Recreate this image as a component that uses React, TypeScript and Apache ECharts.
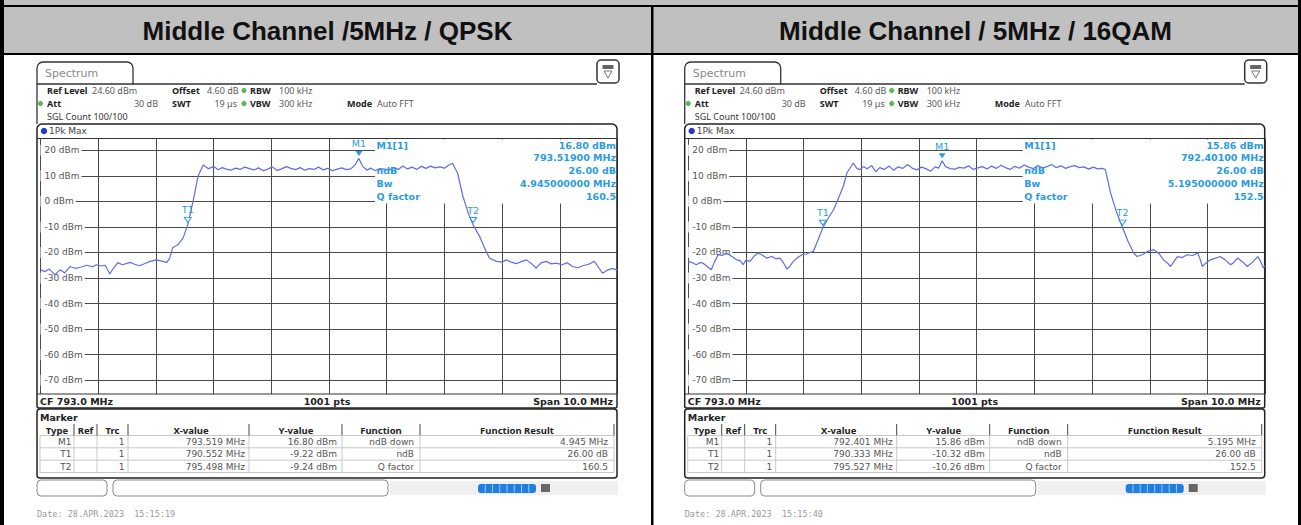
import React, { useEffect, useRef } from 'react';
import * as echarts from 'echarts';

const W = 1301;
const H = 525;
const FONT = '"DejaVu Sans", Verdana, sans-serif';
const NARROW = '"Noto Sans", "DejaVu Sans", sans-serif';
const MONO = '"DejaVu Sans Mono", monospace';
const TRACE = '#5f6de3';
const MARK = '#2b9be0';

const PANEL_DX = [0, 647.7];
const titles = ['Middle Channel /5MHz / QPSK', 'Middle Channel / 5MHz / 16QAM'];

const freqStart = 788;
const freqStop = 798;
const refLevel = 24.6;
const bottomLevel = -75.4;
const yTicks = [20, 10, 0, -10, -20, -30, -40, -50, -60, -70];

// [frequency MHz, level dBm]
const qpskTrace: [number, number][] = [
  [788.0, -26.8], [788.08, -27.5], [788.15, -26.5], [788.25, -28.7], [788.34, -26.8], [788.42, -28.0],
  [788.51, -25.5], [788.6, -26.2], [788.7, -25.8], [788.8, -25.0], [788.9, -25.6], [788.97, -24.8],
  [789.05, -25.3], [789.12, -25.0], [789.2, -28.4], [789.27, -26.0], [789.34, -24.0], [789.42, -24.8],
  [789.5, -24.3], [789.55, -23.9], [789.63, -24.6], [789.72, -25.2], [789.8, -24.4], [789.9, -23.5],
  [790.01, -22.9], [790.1, -23.4], [790.19, -23.9], [790.24, -22.2], [790.29, -18.2], [790.38, -17.0],
  [790.47, -14.4], [790.552, -9.22], [790.65, 0.7], [790.73, 9.8], [790.82, 14.2], [790.91, 12.8],
  [791.0, 13.6], [791.08, 12.4], [791.15, 13.2], [791.22, 12.6], [791.3, 12.2], [791.38, 13.0],
  [791.46, 12.5], [791.54, 13.4], [791.62, 12.8], [791.7, 12.3], [791.78, 13.1], [791.86, 12.0],
  [791.94, 12.6], [792.02, 13.5], [792.1, 12.1], [792.18, 12.7], [792.26, 13.6], [792.34, 12.9],
  [792.42, 12.4], [792.5, 13.2], [792.58, 12.2], [792.66, 12.8], [792.74, 12.5], [792.82, 13.4],
  [792.9, 12.3], [792.98, 12.9], [793.06, 12.0], [793.14, 12.6], [793.22, 13.1], [793.3, 12.4],
  [793.38, 12.7], [793.46, 14.6], [793.519, 16.8], [793.58, 13.8], [793.66, 12.2], [793.72, 13.0],
  [793.8, 12.1], [793.88, 12.8], [793.96, 12.6], [794.04, 12.3], [794.12, 13.2], [794.2, 12.5],
  [794.28, 13.8], [794.36, 12.7], [794.44, 13.4], [794.52, 12.5], [794.6, 13.7], [794.68, 12.9],
  [794.76, 13.8], [794.84, 13.1], [794.92, 13.5], [795.0, 13.0], [795.08, 14.2], [795.14, 14.9],
  [795.23, 11.0], [795.32, 2.0], [795.42, -5.0], [795.498, -9.24], [795.61, -13.7], [795.7, -18.5],
  [795.78, -22.2], [795.9, -23.5], [796.0, -23.8], [796.07, -22.9], [796.16, -23.8], [796.25, -24.4],
  [796.33, -23.6], [796.42, -22.9], [796.5, -24.2], [796.59, -26.1], [796.68, -24.0], [796.77, -23.5],
  [796.85, -24.5], [796.94, -24.2], [797.04, -24.8], [797.13, -24.0], [797.22, -25.5], [797.31, -26.0],
  [797.4, -25.2], [797.5, -24.6], [797.6, -23.5], [797.67, -25.8], [797.74, -28.1], [797.82, -27.0],
  [797.9, -26.3], [798.0, -26.8],
];

const qamTrace: [number, number][] = [
  [788.0, -23.5], [788.07, -24.0], [788.14, -24.8], [788.2, -24.0], [788.26, -24.2], [788.33, -25.5],
  [788.4, -26.8], [788.46, -23.5], [788.52, -20.9], [788.59, -21.2], [788.66, -20.2], [788.75, -21.5],
  [788.84, -22.9], [788.9, -23.2], [788.95, -24.8], [789.0, -23.0], [789.07, -23.5], [789.14, -21.5],
  [789.21, -20.2], [789.28, -21.0], [789.36, -22.2], [789.45, -21.6], [789.52, -22.5], [789.59, -22.2],
  [789.65, -24.0], [789.71, -26.5], [789.76, -25.5], [789.82, -23.5], [789.9, -22.0], [789.97, -20.9],
  [790.05, -20.6], [790.11, -20.0], [790.17, -19.6], [790.25, -15.0], [790.333, -10.32], [790.42, -6.8],
  [790.52, -3.3], [790.6, 1.0], [790.69, 6.0], [790.75, 11.1], [790.86, 15.0], [790.92, 13.0],
  [790.97, 12.4], [791.04, 13.6], [791.1, 12.8], [791.18, 14.0], [791.25, 11.6], [791.32, 13.2],
  [791.4, 12.5], [791.48, 13.8], [791.56, 12.2], [791.64, 13.5], [791.72, 12.9], [791.8, 14.4],
  [791.88, 13.0], [791.96, 12.3], [792.04, 13.4], [792.12, 12.8], [792.2, 11.8], [792.28, 13.5],
  [792.34, 13.0], [792.401, 15.86], [792.46, 13.6], [792.54, 12.8], [792.62, 12.6], [792.7, 13.3],
  [792.78, 13.0], [792.86, 13.9], [792.94, 12.5], [793.02, 13.1], [793.1, 13.6], [793.18, 12.7],
  [793.26, 13.8], [793.34, 12.9], [793.42, 14.1], [793.5, 13.2], [793.58, 12.5], [793.66, 13.7],
  [793.74, 13.0], [793.82, 14.2], [793.9, 13.4], [793.98, 12.8], [794.06, 14.0], [794.14, 13.1],
  [794.22, 13.6], [794.3, 14.4], [794.38, 13.2], [794.46, 13.9], [794.54, 12.9], [794.62, 13.6],
  [794.7, 14.0], [794.78, 13.2], [794.86, 13.5], [794.94, 12.6], [795.02, 13.4], [795.1, 12.7],
  [795.17, 12.9], [795.23, 12.4], [795.32, 3.3], [795.42, -4.0], [795.527, -10.26], [795.62, -15.5],
  [795.72, -20.2], [795.78, -21.6], [795.88, -20.8], [795.96, -19.6], [796.07, -18.9], [796.16, -20.5],
  [796.24, -22.9], [796.3, -24.0], [796.36, -25.5], [796.42, -23.5], [796.48, -21.6], [796.56, -22.0],
  [796.65, -20.9], [796.74, -21.2], [796.83, -20.2], [796.87, -22.5], [796.91, -25.5], [796.98, -24.0],
  [797.05, -22.9], [797.13, -22.3], [797.22, -21.6], [797.31, -23.0], [797.4, -24.8], [797.46, -23.8],
  [797.52, -22.2], [797.6, -23.5], [797.69, -25.5], [797.78, -23.8], [797.87, -21.6], [797.92, -23.5],
  [797.97, -26.1], [798.0, -25.0],
];

const markerNames = ['M1', 'T1', 'T2'];
const qpskMarkerFreq = [793.519, 790.552, 795.498];
const qpskMarkerLevel = [16.8, -9.22, -9.24];
const qamMarkerFreq = [792.401, 790.333, 795.527];
const qamMarkerLevel = [15.86, -10.32, -10.26];

const infoLabels = ['M1[1]', 'ndB', 'Bw', 'Q factor'];
const qpskInfoValues = ['16.80 dBm', '793.51900 MHz', '26.00 dB', '4.945000000 MHz', '160.5'];
const qamInfoValues = ['15.86 dBm', '792.40100 MHz', '26.00 dB', '5.195000000 MHz', '152.5'];

const tableHeader = ['Type', 'Ref', 'Trc', 'X-value', 'Y-value', 'Function', 'Function Result'];
const qpskRows = [
  ['M1', '', '1', '793.519 MHz', '16.80 dBm', 'ndB down', '4.945 MHz'],
  ['T1', '', '1', '790.552 MHz', '-9.22 dBm', 'ndB', '26.00 dB'],
  ['T2', '', '1', '795.498 MHz', '-9.24 dBm', 'Q factor', '160.5'],
];
const qamRows = [
  ['M1', '', '1', '792.401 MHz', '15.86 dBm', 'ndB down', '5.195 MHz'],
  ['T1', '', '1', '790.333 MHz', '-10.32 dBm', 'ndB', '26.00 dB'],
  ['T2', '', '1', '795.527 MHz', '-10.26 dBm', 'Q factor', '152.5'],
];
const dates = ['Date: 28.APR.2023  15:15:19', 'Date: 28.APR.2023  15:15:40'];

const traces = [qpskTrace, qamTrace];
const markerFreqs = [qpskMarkerFreq, qamMarkerFreq];
const markerLevels = [qpskMarkerLevel, qamMarkerLevel];
const infoValues = [qpskInfoValues, qamInfoValues];
const tableRows = [qpskRows, qamRows];

// layout
const GRID_LEFT = 40.5;
const GRID_TOP = 138.5;
const GRID_W = 577;
const GRID_H = 255.5;

function panelGraphics(p: number): any[] {
  const dx = PANEL_DX[p];
  const X = (x: number) => x + dx;
  const els: any[] = [];
  const txt = (x: number, y: number, text: string, o: any = {}) =>
    els.push({
      type: 'text', x: X(x), y, z: 12,
      style: {
        text, fill: o.fill ?? '#333', fontSize: o.size ?? 9,
        fontWeight: o.bold ? 'bold' : 'normal', fontFamily: o.family ?? FONT,
        textAlign: o.align ?? 'left', textVerticalAlign: 'middle',
      },
    });
  const line = (x1: number, y1: number, x2: number, y2: number, stroke = '#222', lw = 1, z = 6) =>
    els.push({ type: 'line', z, shape: { x1: X(x1), y1, x2: X(x2), y2 }, style: { stroke, lineWidth: lw } });
  const dot = (cx: number, cy: number, fill: string, r = 2.6) =>
    els.push({ type: 'circle', z: 12, shape: { cx: X(cx), cy, r }, style: { fill } });

  // tab
  els.push({ type: 'rect', z: 6, shape: { x: X(37), y: 62, width: 96, height: 22, r: [6, 6, 0, 0] }, style: { fill: '#fff', stroke: '#333', lineWidth: 1.3 } });
  line(133, 84, 597, 84, '#333', 1.3);
  line(37, 84, 37, 124, '#333', 1.3);
  txt(45, 73, 'Spectrum', { size: 11, fill: '#8a8a8a' });
  // icon
  els.push({ type: 'rect', z: 6, shape: { x: X(597), y: 60, width: 22, height: 23, r: 4 }, style: { fill: '#fff', stroke: '#333', lineWidth: 1.5 } });
  els.push({ type: 'rect', z: 7, shape: { x: X(602.5), y: 65, width: 11, height: 4 }, style: { fill: '#666' } });
  els.push({ type: 'polygon', z: 7, shape: { points: [[X(604), 71], [X(612), 71], [X(608), 78]] }, style: { fill: 'none', stroke: '#777', lineWidth: 1 } });

  // info lines
  const G = '#5a5a5a';
  const N = { family: NARROW, size: 9 };
  txt(47, 90.5, 'Ref Level', { ...N, bold: true, fill: '#222' });
  txt(92, 90.5, '24.60 dBm', { ...N, fill: G });
  txt(172, 90.5, 'Offset', { ...N, bold: true, fill: '#222' });
  txt(207, 90.5, '4.60 dB', { ...N, fill: G });
  dot(244, 90.5, '#5cb85c');
  txt(250, 90.5, 'RBW', { ...N, bold: true, fill: '#222' });
  txt(279, 90.5, '100 kHz', { ...N, fill: G });
  dot(40.5, 103.5, '#5cb85c');
  txt(47, 103.5, 'Att', { ...N, bold: true, fill: '#222' });
  txt(158, 103.5, '30 dB', { ...N, fill: G, align: 'right' });
  txt(172, 103.5, 'SWT', { ...N, bold: true, fill: '#222' });
  txt(237, 103.5, '19 µs', { ...N, fill: G, align: 'right' });
  dot(244, 103.5, '#5cb85c');
  txt(250, 103.5, 'VBW', { ...N, bold: true, fill: '#222' });
  txt(279, 103.5, '300 kHz', { ...N, fill: G });
  txt(347, 103.5, 'Mode', { ...N, bold: true, fill: '#222' });
  txt(377, 103.5, 'Auto FFT', { ...N, fill: G });
  txt(47, 116.5, 'SGL Count 100/100', { ...N, fill: '#333' });

  // plot frame
  els.push({ type: 'rect', z: 6, shape: { x: X(37), y: 124, width: 580, height: 284, r: [5, 5, 2, 2] }, style: { fill: 'none', stroke: '#222', lineWidth: 1.5 } });
  line(37, GRID_TOP, 617, GRID_TOP, '#333', 1.2);
  line(37, GRID_TOP + GRID_H, 617, GRID_TOP + GRID_H, '#333', 1.2);
  dot(44, 131, '#2438d0', 3.2);
  txt(49, 131, '1Pk Max', { fill: '#444' });
  // white box behind marker info
  els.push({ type: 'rect', z: 3, shape: { x: X(375), y: GRID_TOP + 1, width: 241.5, height: 64 }, style: { fill: '#fff' } });
  txt(376.5, 145, infoLabels[0], { bold: true, fill: MARK, size: 9.5 });
  txt(376.5, 170.5, infoLabels[1], { bold: true, fill: MARK, size: 9.5 });
  txt(376.5, 183.3, infoLabels[2], { bold: true, fill: MARK, size: 9.5 });
  txt(376.5, 196.5, infoLabels[3], { bold: true, fill: MARK, size: 9.5 });
  const iv = infoValues[p];
  [145, 157.5, 170.5, 183.3, 196.5].forEach((y, k) => txt(616, y, iv[k], { bold: true, fill: MARK, size: 9.5, align: 'right' }));

  // CF bar
  txt(40, 401, 'CF 793.0 MHz', { bold: true, fill: '#222', size: 9.5 });
  txt(327, 401, '1001 pts', { bold: true, fill: '#222', size: 9.5, align: 'center' });
  txt(613, 401, 'Span 10.0 MHz', { bold: true, fill: '#222', size: 9.5, align: 'right' });

  // marker table
  els.push({ type: 'rect', z: 6, shape: { x: X(37), y: 409, width: 580, height: 69, r: 3 }, style: { fill: '#fff', stroke: '#222', lineWidth: 1.5 } });
  txt(40, 417.5, 'Marker', { bold: true, fill: '#222', size: 9.5 });
  const seps = [74, 97, 128, 249, 342, 420];
  const rowY = [441.5, 454, 466.5];
  [435.5, 447.8, 460.2, 472.5].forEach((y) => line(40, y, 614, y, '#c8c8c8', 1, 7));
  seps.forEach((x) => {
    line(x, 424, x, 435.5, '#444', 1, 7);
    line(x, 435.5, x, 472.5, '#c8c8c8', 1, 7);
  });
  line(614, 424, 614, 435.5, '#444', 1, 7);
  line(40, 435.5, 40, 472.5, '#c8c8c8', 1, 7);
  line(614, 435.5, 614, 472.5, '#c8c8c8', 1, 7);
  const headX = [57, 85.5, 112.5, 191, 296, 381, 517];
  tableHeader.forEach((h, k) => txt(headX[k], 430, h, { bold: true, fill: '#222', size: 9.5, family: NARROW, align: 'center' }));
  const cellX = [71.5, 95, 124.5, 245, 337, 414, 608];
  tableRows[p].forEach((row, r) =>
    row.forEach((c, k) => { if (c) txt(cellX[k], rowY[r], c, { fill: '#555', align: 'right' }); })
  );

  // status bar
  els.push({ type: 'rect', z: 6, shape: { x: X(390), y: 481, width: 228, height: 14 }, style: { fill: '#efefef' } });
  els.push({ type: 'rect', z: 6, shape: { x: X(37), y: 480, width: 70, height: 16, r: 4 }, style: { fill: '#fff', stroke: '#8a8a8a', lineWidth: 1 } });
  els.push({ type: 'rect', z: 6, shape: { x: X(113), y: 480, width: 275, height: 16, r: 4 }, style: { fill: '#fff', stroke: '#8a8a8a', lineWidth: 1 } });
  els.push({ type: 'rect', z: 7, shape: { x: X(478), y: 484, width: 58, height: 9, r: 3 }, style: { fill: '#1f7fe0' } });
  for (let k = 1; k < 8; k++) line(478 + k * 7.25, 484.5, 478 + k * 7.25, 492.5, '#9cc8f2', 1, 8);
  els.push({ type: 'rect', z: 7, shape: { x: X(541), y: 484, width: 9, height: 8 }, style: { fill: '#666' } });

  txt(37, 514, dates[p], { family: MONO, size: 8.5, fill: '#9a9a9a' });
  return els;
}

function buildOption(): any {
  const graphics: any[] = [];
  graphics.push({ type: 'rect', z: 1, shape: { x: 0, y: 0, width: W, height: 53 }, style: { fill: '#c0c0c0' } });
  graphics.push({ type: 'rect', z: 2, shape: { x: 0, y: 5, width: W, height: 2 }, style: { fill: '#000' } });
  graphics.push({ type: 'rect', z: 2, shape: { x: 0, y: 53, width: W, height: 2 }, style: { fill: '#000' } });
  graphics.push({ type: 'rect', z: 2, shape: { x: 0, y: 0, width: 4, height: H }, style: { fill: '#000' } });
  graphics.push({ type: 'rect', z: 2, shape: { x: 1298, y: 0, width: 3, height: H }, style: { fill: '#000' } });
  graphics.push({ type: 'rect', z: 2, shape: { x: 651, y: 5, width: 2.5, height: H }, style: { fill: '#000' } });
  [327.5, 975.5].forEach((cx, i) =>
    graphics.push({
      type: 'text', x: cx, y: 30.5, z: 3,
      style: { text: titles[i], fill: '#111', fontSize: 26, fontWeight: 'bold', fontFamily: '"Liberation Sans", Arial, sans-serif', textAlign: 'center', textVerticalAlign: 'middle' },
    })
  );
  graphics.push(...panelGraphics(0), ...panelGraphics(1));

  const grid = PANEL_DX.map((dx) => ({ left: GRID_LEFT + dx, top: GRID_TOP, width: GRID_W, height: GRID_H, containLabel: false }));
  const xAxis = PANEL_DX.map((_, i) => ({
    type: 'value', gridIndex: i, min: freqStart, max: freqStop, interval: 1,
    axisLine: { show: false }, axisTick: { show: false }, axisLabel: { show: false },
    splitLine: { show: true, lineStyle: { color: '#4a4a4a', width: 1 } },
  }));
  const yAxis: any[] = [];
  PANEL_DX.forEach((_, i) => {
    yAxis.push({
      type: 'value', gridIndex: i, position: 'left', min: bottomLevel, max: refLevel, z: 0,
      axisLine: { show: false }, axisTick: { show: false, customValues: yTicks },
      axisLabel: { show: false, customValues: yTicks },
      splitLine: { show: true, lineStyle: { color: '#4a4a4a', width: 1 } },
    });
    yAxis.push({
      type: 'value', gridIndex: i, position: 'left', offset: 0, min: bottomLevel, max: refLevel, z: 5,
      axisLine: { show: false }, axisTick: { show: false, customValues: yTicks },
      axisLabel: {
        show: true, inside: true, customValues: yTicks, margin: 0,
        formatter: (v: number) => `${v} dBm`, color: '#555', fontSize: 9, fontFamily: FONT,
        backgroundColor: '#fff', padding: [1, 2, 1, 4],
      },
      splitLine: { show: false },
    });
  });
  const series = PANEL_DX.map((_, i) => ({
    type: 'line', xAxisIndex: i, yAxisIndex: i * 2, z: 10, silent: true,
    data: traces[i], showSymbol: false, symbol: 'none',
    lineStyle: { color: TRACE, width: 1.2 },
    markPoint: {
      z: 12, symbol: 'triangle', symbolRotate: 180, symbolSize: [7, 5], symbolOffset: [0, -5],
      label: { show: true, position: 'top', distance: 2, formatter: '{b}', color: MARK, fontSize: 9.5, fontFamily: FONT },
      data: markerNames.map((n, k) => ({
        name: n, coord: [markerFreqs[i][k], markerLevels[i][k]],
        itemStyle: k === 0 ? { color: MARK } : { color: '#fff', borderColor: MARK, borderWidth: 1 },
      })),
    },
  }));
  return { animation: false, backgroundColor: '#fff', grid, xAxis, yAxis, series, graphic: { elements: graphics } };
}

export default function App() {
  const ref = useRef<HTMLDivElement>(null);
  useEffect(() => {
    if (!ref.current) return;
    const chart = echarts.init(ref.current, undefined, { renderer: 'svg' });
    chart.setOption(buildOption());
    return () => chart.dispose();
  }, []);
  return <div ref={ref} style={{ position: 'fixed', left: 0, top: 0, width: W, height: H, background: '#fff' }} />;
}
